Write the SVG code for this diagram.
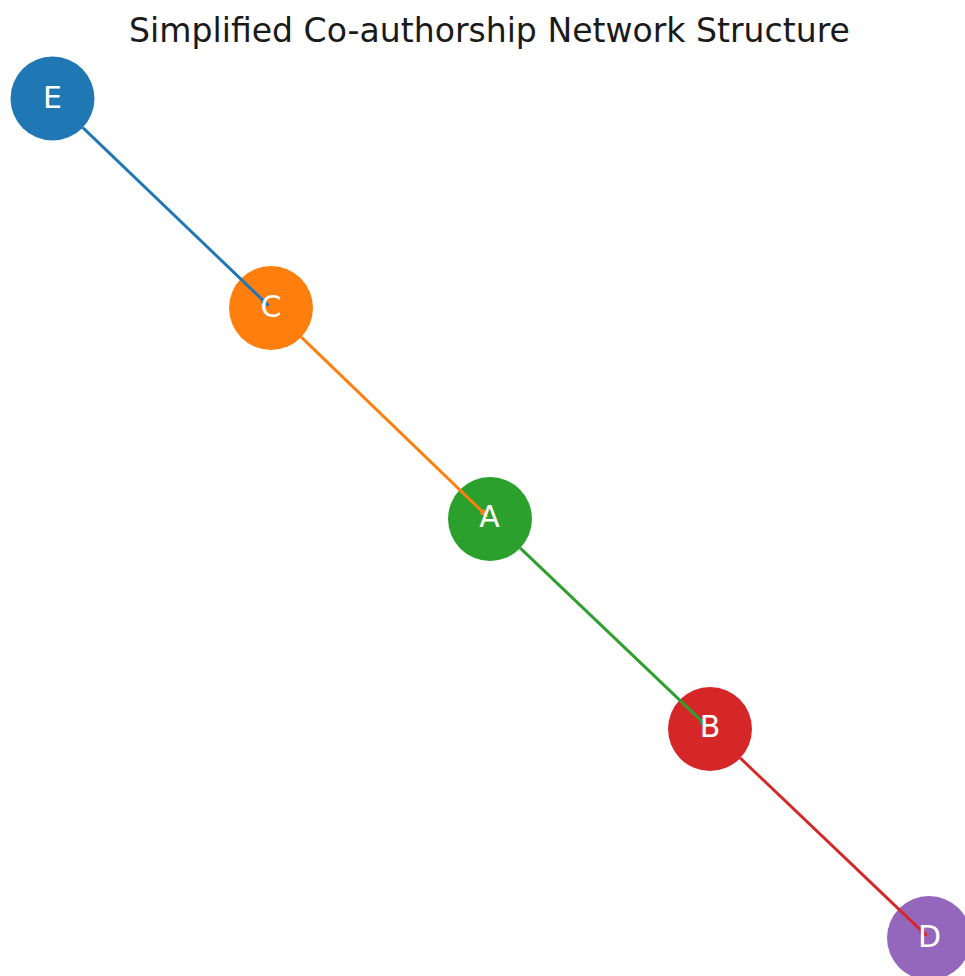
<svg xmlns="http://www.w3.org/2000/svg" width="965" height="976" viewBox="0 0 965 976">
<style>
.lbl{font-family:"DejaVu Sans",sans-serif;font-size:30px;fill:#ffffff;text-anchor:middle;dominant-baseline:central}
.title{font-family:"DejaVu Sans",sans-serif;font-size:33.1px;fill:#1a1a1a;text-anchor:middle}
.e{stroke-width:2.9;fill:none}
</style>
<defs>
<marker id="ab" viewBox="0 0 10 10" refX="9" refY="5" markerWidth="3" markerHeight="3" orient="auto" markerUnits="strokeWidth"><path d="M0,1 L10,5 L0,9 z" fill="#1f77b4"/></marker>
<marker id="ao" viewBox="0 0 10 10" refX="9" refY="5" markerWidth="3" markerHeight="3" orient="auto" markerUnits="strokeWidth"><path d="M0,1 L10,5 L0,9 z" fill="#ff7f0e"/></marker>
<marker id="ag" viewBox="0 0 10 10" refX="9" refY="5" markerWidth="3" markerHeight="3" orient="auto" markerUnits="strokeWidth"><path d="M0,1 L10,5 L0,9 z" fill="#2ca02c"/></marker>
<marker id="ar" viewBox="0 0 10 10" refX="9" refY="5" markerWidth="3" markerHeight="3" orient="auto" markerUnits="strokeWidth"><path d="M0,1 L10,5 L0,9 z" fill="#d62728"/></marker>
</defs>
<rect width="965" height="976" fill="#ffffff"/>
<text class="title" x="489.5" y="42">Simplified Co-authorship Network Structure</text>
<g id="node-E"><circle cx="52.5" cy="98.5" r="42" fill="#1f77b4"/></g>
<g id="node-C"><circle cx="271" cy="308" r="42" fill="#ff7f0e"/></g>
<g id="node-A"><circle cx="490" cy="519" r="42" fill="#2ca02c"/></g>
<g id="node-B"><circle cx="710" cy="729" r="42" fill="#d62728"/></g>
<g id="node-D"><circle cx="929" cy="938" r="42" fill="#9467bd"/></g>
<g id="connectors">
<line class="e" x1="82.8" y1="127.6" x2="268.5" y2="305.6" stroke="#1f77b4" marker-end="url(#ab)"/>
<line class="e" x1="301.3" y1="337.1" x2="487.5" y2="516.6" stroke="#ff7f0e" marker-end="url(#ao)"/>
<line class="e" x1="520.3" y1="548.1" x2="707.5" y2="726.6" stroke="#2ca02c" marker-end="url(#ag)"/>
<line class="e" x1="740.3" y1="758.1" x2="926.5" y2="935.6" stroke="#d62728" marker-end="url(#ar)"/>
</g>
<g id="labels">
<text class="lbl" x="52.5" y="97">E</text>
<text class="lbl" x="271" y="306.5">C</text>
<text class="lbl" x="489.5" y="516.5">A</text>
<text class="lbl" x="710" y="726.5">B</text>
<text class="lbl" x="929.5" y="936.5">D</text>
</g>
</svg>
